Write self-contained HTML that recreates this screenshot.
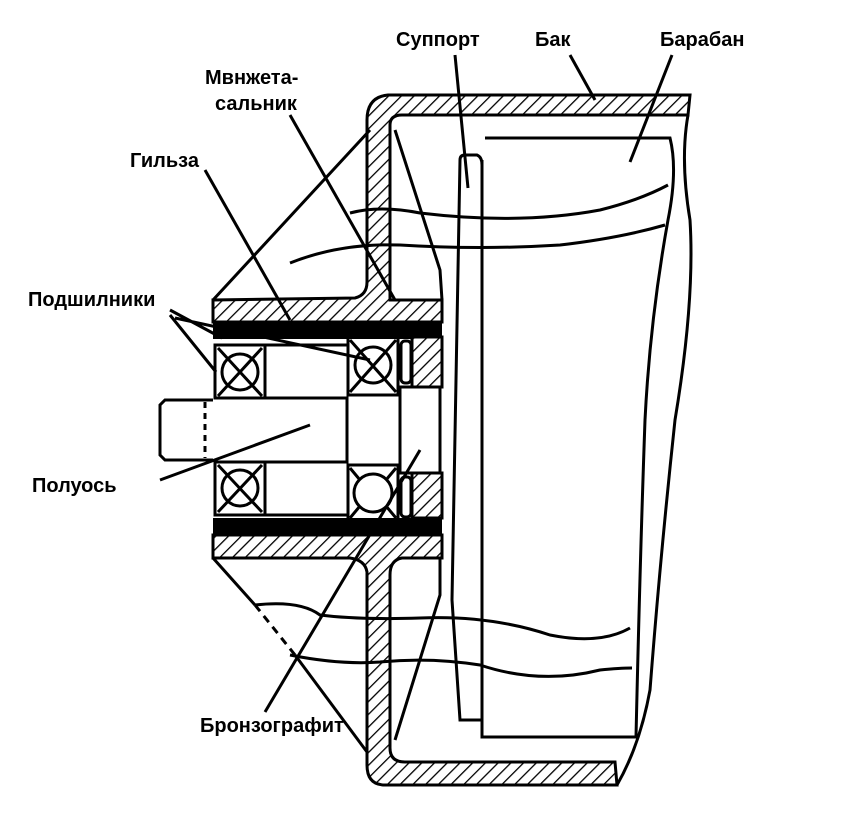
<!DOCTYPE html>
<html><head><meta charset="utf-8"><style>
html,body{margin:0;padding:0;background:#fff}
svg{display:block}
text{font-family:"Liberation Sans",sans-serif;font-size:20px;fill:#000;font-weight:600}
</style></head><body>
<svg width="841" height="817" viewBox="0 0 841 817" xmlns="http://www.w3.org/2000/svg">
<defs>
<pattern id="h" patternUnits="userSpaceOnUse" width="9" height="9" patternTransform="rotate(45)">
<rect width="9" height="9" fill="#fff"/><line x1="0" y1="0" x2="0" y2="9" stroke="#000" stroke-width="2.6"/>
</pattern>
</defs>
<g stroke="#000" stroke-width="3" fill="none">
<path d="M390,300 L390,125 Q390,115 402,115 L688,115 L690,95 L388,95 Q367,97 367,120 L367,282 Q367,295 355,298 L213,300 L213,322 L442,322 L442,300 Z" fill="url(#h)"/>
<path d="M213,535 L442,535 L442,558 L402,558 Q390,560 390,575 L390,748 Q390,762 405,762 L615,762 L617,785 L385,785 Q367,785 367,765 L367,572 Q365,560 350,558 L213,558 Z" fill="url(#h)"/>
<rect x="213" y="322" width="229" height="17" fill="#000" stroke="none"/>
<rect x="213" y="518" width="229" height="17" fill="#000" stroke="none"/>
<rect x="215" y="345" width="50" height="53"/>
<rect x="215" y="462" width="50" height="53"/>
<circle cx="240" cy="372" r="18"/><path d="M218,348 L262,396 M262,348 L218,396"/>
<circle cx="240" cy="488" r="18"/><path d="M218,465 L262,512 M262,465 L218,512"/>
<path d="M265,345 L347,345 M265,398 L347,398 L347,462 L265,462 M265,515 L347,515"/>
<path d="M215,398 L265,398 M215,462 L265,462"/>
<path d="M348,395 L400,395 L400,465 L348,465"/>
<rect x="400" y="387" width="40" height="86"/>
<rect x="348" y="337" width="50" height="58"/>
<rect x="348" y="465" width="50" height="55"/>
<circle cx="373" cy="365" r="18"/><path d="M350,340 L396,392 M396,340 L350,392"/>
<circle cx="373" cy="493" r="19"/><path d="M350,468 L360,480 M396,468 L386,480 M350,518 L360,506 M396,518 L386,506"/>
<path d="M412,337 L442,337 L442,387 L412,387 Z" fill="url(#h)"/>
<path d="M412,473 L442,473 L442,518 L412,518 Z" fill="url(#h)"/>
<rect x="401" y="341" width="10" height="42" rx="4"/>
<rect x="401" y="477" width="10" height="40" rx="4"/>
<path d="M213,400 L165,400 L160,405 L160,455 L165,460 L213,460"/>
<path d="M205,402 L205,458" stroke-dasharray="6,5"/>
<path d="M213,300 L370,130"/>
<path d="M213,558 L255,605"/>
<path d="M255,605 L295,655" stroke-dasharray="8,6"/>
<path d="M295,655 L367,752"/>
<path d="M395,130 L440,270 L442,300"/>
<path d="M440,558 L440,595 L395,740"/>
<path d="M460,160 Q460,155 465,155 L477,155 Q482,157 482,165 L482,720 L460,720 L452,600 Z"/>
<path d="M485,138 L670,138 Q678,170 668,220 Q650,320 645,420 Q640,560 636,737 L482,737 L482,160"/>
<path d="M688,115 Q680,160 690,220 Q695,300 675,420 Q660,560 650,690 Q640,745 617,785"/>
<path d="M350,213 Q380,205 420,213 Q520,225 600,210 Q640,200 668,185"/>
<path d="M290,263 Q340,243 400,245 Q480,250 560,245 Q620,238 665,225"/>
<path d="M255,605 Q300,600 320,615 Q360,620 420,618 Q490,615 550,635 Q600,645 630,628"/>
<path d="M290,655 Q340,665 380,662 Q430,657 480,665 Q540,685 600,670 Q620,668 632,668"/>
<path d="M455,55 L468,188"/>
<path d="M570,55 L595,100"/>
<path d="M672,55 L630,162"/>
<path d="M290,115 L395,300"/>
<path d="M205,170 L290,320"/>
<path d="M170,310 L222,338 M170,315 L216,372 M175,318 L370,360"/>
<path d="M160,480 L310,425"/>
<path d="M265,712 L420,450"/>
</g>
<text x="396" y="46">Суппорт</text>
<text x="535" y="46">Бак</text>
<text x="660" y="46">Барабан</text>
<text x="205" y="84">Мвнжета-</text>
<text x="215" y="110">сальник</text>
<text x="130" y="167">Гильза</text>
<text x="28" y="306">Подшилники</text>
<text x="32" y="492">Полуось</text>
<text x="200" y="732">Бронзографит</text>
</svg>
</body></html>
